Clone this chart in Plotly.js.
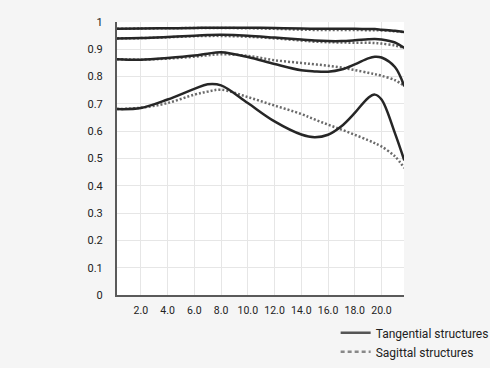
<!DOCTYPE html>
<html>
<head>
<meta charset="utf-8">
<script src="https://cdn.plot.ly/plotly-3.0.1.min.js"></script>
<style>html,body{margin:0;padding:0;background:#f5f5f5;}#chart{width:490px;height:368px;}</style>
</head>
<body>
<div id="chart"></div>
<script>
// Image height (mm) positions
const imageHeight = [0.2, 2, 4, 6, 7, 8, 10, 12, 14, 15, 16, 17, 18, 19, 19.5, 20, 21, 21.7];

// Tangential (solid) curves, top to bottom
const tangential1 = [0.975,0.976,0.977,0.978,0.979,0.979,0.979,0.978,0.976,0.975,0.975,0.975,0.975,0.974,0.974,0.972,0.968,0.963];
const tangential2 = [0.940,0.941,0.945,0.950,0.952,0.953,0.950,0.943,0.936,0.932,0.930,0.930,0.933,0.937,0.938,0.936,0.925,0.905];
const tangential3 = [0.864,0.862,0.868,0.877,0.884,0.889,0.872,0.846,0.823,0.819,0.818,0.826,0.845,0.867,0.873,0.870,0.835,0.764];
const tangential4 = [0.681,0.685,0.716,0.755,0.772,0.768,0.703,0.636,0.588,0.578,0.587,0.618,0.667,0.722,0.734,0.716,0.593,0.493];

// Sagittal (dotted) curves, top to bottom
const sagittal1 = [0.975,0.976,0.977,0.978,0.978,0.978,0.977,0.975,0.972,0.971,0.971,0.971,0.971,0.970,0.970,0.969,0.966,0.963];
const sagittal2 = [0.940,0.941,0.944,0.948,0.949,0.949,0.946,0.940,0.932,0.928,0.926,0.925,0.924,0.924,0.923,0.921,0.914,0.905];
const sagittal3 = [0.864,0.862,0.866,0.873,0.878,0.882,0.876,0.860,0.850,0.845,0.840,0.833,0.824,0.814,0.809,0.803,0.787,0.766];
const sagittal4 = [0.681,0.686,0.703,0.734,0.745,0.752,0.725,0.694,0.663,0.643,0.624,0.606,0.587,0.567,0.556,0.544,0.508,0.465];

const xTicks = [2,4,6,8,10,12,14,16,18,20];
const xTickLabels = ['2.0','4.0','6.0','8.0','10.0','12.0','14.0','16.0','18.0','20.0'];
const yTicks = [0,0.1,0.2,0.3,0.4,0.5,0.6,0.7,0.8,0.9,1];
const yTickLabels = ['0','0.1','0.2','0.3','0.4','0.5','0.6','0.7','0.8','0.9','1'];
const legendNames = ['Tangential structures','Sagittal structures'];

const solidLine = {color:'#262626', width:2.5, shape:'spline', smoothing:1};
const dotLine = {color:'#6a6a6a', width:2.5, dash:'2px,2px', shape:'spline', smoothing:1};

const traces = [];
[sagittal1, sagittal2, sagittal3, sagittal4].forEach(s => traces.push({
  x: imageHeight, y: s, mode:'lines', line: dotLine, showlegend:false, hoverinfo:'skip'
}));
[tangential1, tangential2, tangential3, tangential4].forEach(t => traces.push({
  x: imageHeight, y: t, mode:'lines', line: solidLine, showlegend:false, hoverinfo:'skip'
}));
traces.push({x:[null], y:[null], mode:'lines', name: legendNames[0], line:{color:'#555', width:2.5}});
traces.push({x:[null], y:[null], mode:'lines', name: legendNames[1], line:{color:'#888', width:2.5, dash:'4px,3px'}});

const font = 'Roboto, sans-serif';
const layout = {
  width: 490, height: 368,
  paper_bgcolor: '#f5f5f5', plot_bgcolor: '#ffffff',
  margin: {l:117, r:86, t:22, b:73, autoexpand:false},
  font: {family: font, color:'#222', size: 11},
  showlegend: true,
  legend: {xref:'container', yref:'container', x:0.685, y:0.135, xanchor:'left', yanchor:'top',
           bgcolor:'rgba(0,0,0,0)',
           font:{family: font, size:12, color:'#222'}, itemwidth:30, tracegroupgap:0},
  xaxis: {range:[0.22, 21.68], tickvals: xTicks, ticktext: xTickLabels, showgrid:true, tickangle:0,
          gridcolor:'#e6e6e6', gridwidth:1, zeroline:false, showline:true, linecolor:'#5a5a5a',
          linewidth:2, ticks:'', ticklabelstandoff:4, tickfont:{family:font, size:10.5, color:'#222'}, fixedrange:true, automargin:false},
  yaxis: {range:[0, 1], tickvals: yTicks, ticktext: yTickLabels, showgrid:true,
          gridcolor:'#e6e6e6', gridwidth:1, zeroline:false, showline:true, linecolor:'#5a5a5a',
          linewidth:2, ticks:'', ticklabelstandoff:10, tickfont:{family:font, size:11, color:'#222'}, fixedrange:true, automargin:false}
};

Plotly.newPlot('chart', traces, layout, {displayModeBar:false, staticPlot:true});
</script>
</body>
</html>
